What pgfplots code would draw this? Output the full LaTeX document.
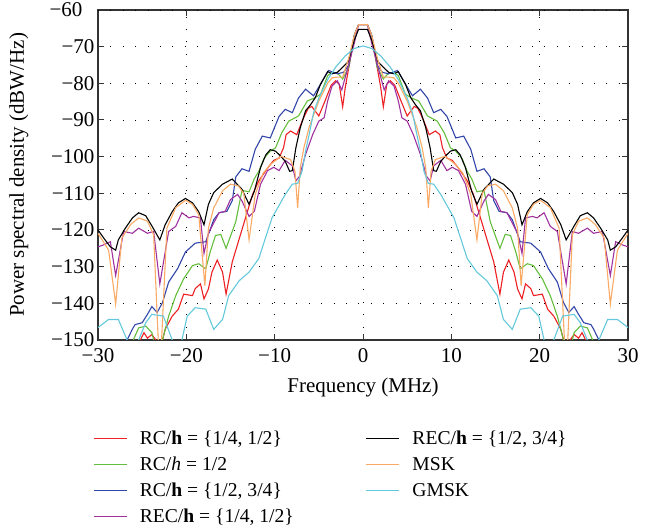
\documentclass[border=0pt]{standalone}
\usepackage{pgfplots}
\pgfplotsset{compat=1.18}
\usepackage{pgfplotstable}
\usepackage{fontspec}
\setmainfont{Liberation Serif}

\definecolor{cred}{RGB}{237,32,36}
\definecolor{cgreen}{RGB}{100,190,60}
\definecolor{cblue}{RGB}{50,70,170}
\definecolor{cpurple}{RGB}{160,50,160}
\definecolor{corange}{RGB}{250,170,100}
\definecolor{ccyan}{RGB}{100,200,220}

\pgfplotstableread{
f p
0 -64
0.5 -64
1.0 -67
1.6 -75.6
2.0 -81
2.3 -86.4
2.7 -80.2
3.1 -79.3
3.6 -80.5
4.3 -84.8
5.0 -88.9
5.8 -86.3
6.2 -86.8
6.8 -89.8
7.5 -94
8.2 -93
8.7 -94
9.0 -97.6
9.5 -100.4
10.1 -101
10.6 -102.5
11.0 -103.8
11.8 -106.6
12.5 -110.3
13.3 -116.7
14.0 -122.3
14.8 -128.7
15.5 -137.5
15.9 -131.5
16.5 -128.2
17.1 -131.5
17.5 -136.1
18.0 -138.8
18.4 -134.7
19.0 -136
19.3 -137.9
20.3 -137.5
20.9 -141.6
21.6 -143.5
22.4 -147.1
22.9 -152
23.3 -150.5
23.9 -148.5
24.4 -149.5
24.8 -148
25.4 -151
26.0 -156
30 -158
}\tred

\pgfplotstableread{
f p
0 -64
0.5 -64
1.0 -67
1.6 -75.6
2.3 -78.8
2.9 -77.2
3.5 -77
4.0 -77.9
4.8 -83
5.5 -84
6.3 -84.8
7.3 -88.9
8.4 -90.3
9.2 -93.5
9.9 -97.6
10.5 -98.5
11.2 -100.4
11.8 -104
12.3 -106
12.9 -109.6
13.7 -109.2
14.4 -117.7
15.5 -125
16.1 -121.2
16.7 -121.5
17.3 -126
17.8 -130.6
18.6 -129.2
19.3 -129.7
20.3 -133.3
21.2 -137.9
22.0 -143.5
22.7 -150
23.1 -156
23.5 -152
23.9 -148
24.6 -146.2
25.4 -146.7
26.0 -150
26.5 -156
30 -158
}\tgreen

\pgfplotstableread{
f p
0 -64
0.5 -64
1.0 -67
1.6 -75
2.2 -77
2.9 -77.4
3.9 -76.5
4.8 -80.2
5.6 -83.4
6.5 -81.6
7.3 -84
8.0 -88
8.8 -87.1
9.5 -89
10.5 -94.9
11.4 -94.4
12.2 -98
12.9 -104
13.7 -103.3
14.4 -105.5
14.8 -112
15.4 -114.9
16.3 -115.3
16.9 -117.2
17.8 -123.2
19.0 -123.6
20.1 -126
21.0 -130.6
22.0 -134.2
22.7 -139.8
23.3 -142.5
23.9 -140.9
24.4 -143
25.0 -145.3
25.8 -145.8
26.1 -147
26.7 -150
27.2 -155
29.5 -152
29.9 -150.5
30 -151
}\tblue

\pgfplotstableread{
f p
0 -64
0.5 -64
1.0 -69.2
1.7 -75.6
2.4 -81.8
2.9 -79.3
3.5 -80.7
4.0 -84.8
4.4 -89.4
5.0 -90.3
5.7 -94
6.5 -99.4
7.2 -105.4
7.6 -106.6
8.0 -102.5
8.8 -101
9.5 -103.8
10.1 -102.9
10.8 -103.8
11.6 -107.5
12.3 -114.9
12.9 -116.3
13.7 -112.1
14.2 -110.3
15.0 -111.7
15.6 -114.9
16.3 -115.3
16.9 -118.1
17.5 -120.9
18.0 -126.4
18.4 -116.7
19.2 -116.3
19.7 -116.7
20.5 -115.3
21.2 -119
22.0 -120.4
23.0 -134.7
23.7 -120.4
24.4 -120.9
25.4 -119.5
26.1 -120.9
27.1 -120.4
28.0 -132.4
28.6 -123.2
29.4 -124.1
30 -124.6
}\tpurple

\pgfplotstableread{
f p
0 -65.3
0.5 -65.3
1.0 -68.3
1.7 -74.2
2.9 -77
3.5 -77.4
4.0 -76.8
4.8 -80.2
5.4 -83.9
5.9 -85.7
6.5 -87.5
7.1 -92.1
7.6 -97.6
8.0 -103.8
8.3 -104
8.8 -101.3
9.3 -99.9
9.9 -98.5
10.5 -98.1
11.0 -99.5
11.6 -103
12.3 -109.4
12.9 -113
13.7 -108.9
14.8 -106.1
15.9 -107.5
16.9 -109.8
17.5 -113
18.0 -118.6
18.6 -115
19.3 -112.6
20.1 -111.4
20.9 -112.6
21.6 -115
22.4 -118.6
23.0 -122.7
23.9 -118.9
24.6 -116.1
25.4 -115.3
26.1 -116.7
26.9 -119.5
27.7 -122.7
28.0 -125.5
28.6 -124.6
29.2 -122.7
30 -120
}\tblack

\pgfplotstableread{
f p
0 -64
0.5 -64
1.0 -67
1.6 -73
2.3 -78.3
2.9 -78.3
3.5 -78.5
4.0 -80
5.0 -84.8
6.1 -92
6.7 -97.6
7.1 -103
7.4 -114
7.7 -104
8.2 -100.8
9.3 -99.9
10.5 -102.2
11.3 -104.5
12.2 -110.3
12.9 -122.7
13.5 -110
14.1 -108
15.0 -107.5
15.9 -109.3
16.9 -114
17.5 -119.5
17.9 -135.2
18.6 -115.8
19.3 -113
20.1 -111.9
21.2 -113.9
22.2 -119.5
23.0 -160
23.7 -121.3
24.4 -117.6
25.4 -116.7
26.3 -118.5
27.3 -122.2
28.0 -140.2
28.8 -125.5
30 -120.9
}\torange

\pgfplotstableread{
f p
0 -69.8
1.0 -70.5
2.0 -72.5
3.1 -75.6
4.0 -79
5.0 -84
5.6 -88
6.1 -94
6.5 -98.5
6.9 -104
7.4 -107.3
8.0 -107.5
8.8 -110.3
10.3 -116.7
11.8 -127.8
12.9 -131.5
14.0 -133.8
15.2 -137.9
15.9 -144.4
16.9 -147.1
17.8 -141.6
19.0 -141.2
19.9 -143.5
20.5 -150
21.0 -155
21.6 -150
22.6 -143.5
23.9 -143
24.6 -145.3
25.4 -150
26.0 -155
26.7 -150
27.7 -144.4
28.8 -144.4
30 -146.6
}\tcyan

\begin{document}
\begin{tikzpicture}[font=\fontsize{21}{24}\selectfont]
\begin{axis}[
  width=530pt, height=330pt, scale only axis,
  xmin=-30, xmax=30, ymin=-150, ymax=-60,
  xtick={-30,-20,...,30},
  xticklabels={−30,−20,−10,0,10,20,30},
  ytick={-150,-140,...,-70},
  yticklabels={−150,−140,−130,−120,−110,−100,−90,−80,−70},
  extra y ticks={-60},
  extra y tick labels={−60},
  extra y tick style={yticklabel style={xshift=-12pt}},
  xticklabel style={yshift=-5pt},
  tick align=inside, tick pos=both,
  major tick length=6pt,
  tick style={black!80, line width=1pt},
  grid=major,
  grid style={black, line width=0.9pt, dash pattern=on 0.9pt off 11.5pt},
  axis line style={line width=1.3pt, black!80},
  xlabel={Frequency (MHz)},
  ylabel={Power spectral density (dBW/Hz)},
  every axis x label/.style={at={(rel axis cs:0.5,0)}, anchor=base, yshift=-53pt},
  every axis y label/.style={at={(rel axis cs:0,0.5)}, xshift=-66pt, rotate=90, anchor=south},
  every axis plot/.append style={line width=1.1pt},
  legend style={at={(-0.015,-0.2625)}, anchor=north west, draw=none, fill=none,
    font=\fontsize{19.6}{23}\selectfont,
    legend columns=2, row sep=7pt,
    /tikz/every even column/.append style={column sep=70pt}},
  legend cell align=left,
  legend image code/.code={\draw[#1, line width=1.2pt] (0pt,0pt) -- (33pt,0pt); \path[draw=none] (0pt,0pt) -- (44pt,0pt);},
]
\coordinate (SW) at (rel axis cs:0,0);
\coordinate (NE) at (rel axis cs:1,1);
\addplot[cred, forget plot] table[x=f, y=p] {\tred};
\addplot[cred, forget plot] table[x expr=-\thisrow{f}, y=p] {\tred};
\addplot[cgreen, forget plot] table[x=f, y=p] {\tgreen};
\addplot[cgreen, forget plot] table[x expr=-\thisrow{f}, y=p] {\tgreen};
\addplot[cblue, forget plot] table[x=f, y=p] {\tblue};
\addplot[cblue, forget plot] table[x expr=-\thisrow{f}, y=p] {\tblue};
\addplot[cpurple, forget plot] table[x=f, y=p] {\tpurple};
\addplot[cpurple, forget plot] table[x expr=-\thisrow{f}, y=p] {\tpurple};
\addplot[black, forget plot] table[x=f, y=p] {\tblack};
\addplot[black, forget plot] table[x expr=-\thisrow{f}, y=p] {\tblack};
\addplot[corange, forget plot] table[x=f, y=p] {\torange};
\addplot[corange, forget plot] table[x expr=-\thisrow{f}, y=p] {\torange};
\addplot[ccyan, forget plot] table[x=f, y=p] {\tcyan};
\addplot[ccyan, forget plot] table[x expr=-\thisrow{f}, y=p] {\tcyan};

\addlegendimage{cred}\addlegendentry{RC/\textbf{h} = \{1/4, 1/2\}}
\addlegendimage{black}\addlegendentry{REC/\textbf{h} = \{1/2, 3/4\}}
\addlegendimage{cgreen}\addlegendentry{RC/\textit{h} = 1/2}
\addlegendimage{corange}\addlegendentry{MSK}
\addlegendimage{cblue}\addlegendentry{RC/\textbf{h} = \{1/2, 3/4\}}
\addlegendimage{ccyan}\addlegendentry{GMSK}
\addlegendimage{cpurple}\addlegendentry{REC/\textbf{h} = \{1/4, 1/2\}}
\end{axis}
\pgfresetboundingbox
\path[use as bounding box] (SW) ++(-98pt,-191pt) rectangle ([xshift=27pt,yshift=10pt]NE);
\end{tikzpicture}
\end{document}
